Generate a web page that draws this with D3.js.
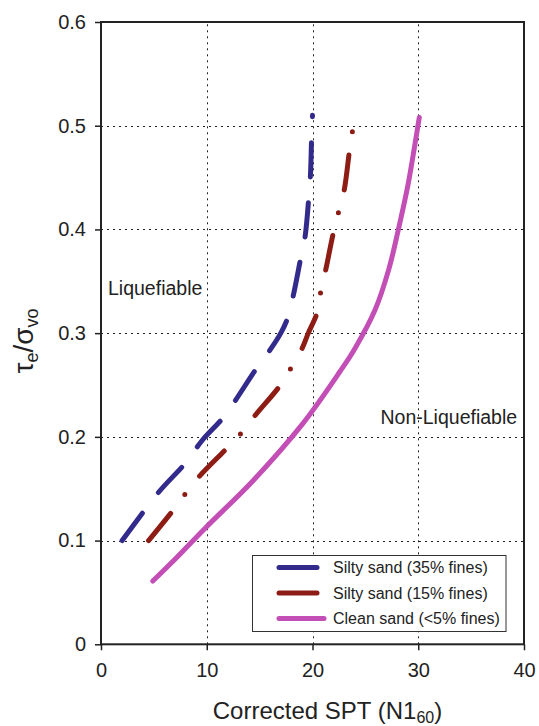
<!DOCTYPE html>
<html>
<head>
<meta charset="utf-8">
<script src="https://cdn.jsdelivr.net/npm/d3@7"></script>
<style>
  html, body { margin: 0; padding: 0; background: #fff; }
  svg { display: block; font-family: "Liberation Sans", Arial, sans-serif; }
</style>
</head>
<body>
<svg id="chart" width="539" height="726"></svg>
<script>
// Corrected SPT blow count (N1_60) vs. cyclic stress ratio for three soil types
const seriesNames = ["Silty sand (35% fines)", "Silty sand (15% fines)", "Clean sand (<5% fines)"];
const seriesColors = ["#332b8c", "#8c1c14", "#c24eb6"];

const silty35N = [2.0, 5.4, 8.0, 9.6, 11.6, 12.7, 14.7, 16.0, 17.0, 17.7, 18.2, 18.9, 19.3, 19.65, 19.8, 19.92, 20.0];
const silty35R = [0.100, 0.146, 0.175, 0.197, 0.219, 0.235, 0.266, 0.284, 0.300, 0.316, 0.337, 0.373, 0.393, 0.431, 0.451, 0.489, 0.510];

const silty15N = [4.5, 6.8, 8.05, 9.3, 11.9, 13.3, 14.6, 16.9, 18.0, 19.0, 19.6, 20.45, 20.8, 21.25, 22.0, 22.5, 23.0, 23.5, 23.8];
const silty15R = [0.100, 0.129, 0.146, 0.162, 0.189, 0.204, 0.221, 0.249, 0.267, 0.285, 0.300, 0.320, 0.341, 0.361, 0.398, 0.418, 0.438, 0.476, 0.496];

const cleanN = [4.9, 6.9, 9.85, 14.4, 19.1, 22.6, 24.0, 25.9, 27.2, 28.1, 29.05, 29.7, 30.1];
const cleanR = [0.061, 0.081, 0.112, 0.158, 0.213, 0.263, 0.285, 0.322, 0.361, 0.399, 0.444, 0.483, 0.508];

const xTicks = [0, 10, 20, 30, 40];
const yTicks = [0, 0.1, 0.2, 0.3, 0.4, 0.5, 0.6];

const svg = d3.select("#chart");

const x = d3.scaleLinear().domain([0, 40]).range([101, 524]);
const y = d3.scaleLinear().domain([0, 0.6]).range([644.3, 22]);

// dotted grid
const grid = svg.append("g").attr("stroke", "#222").attr("stroke-width", 1)
  .attr("stroke-dasharray", "2,4");
grid.selectAll("line.h").data(yTicks.filter(v => v > 0 && v < 0.6)).join("line")
  .attr("x1", x(0)).attr("x2", x(40))
  .attr("y1", d => Math.round(y(d)) + 0.5).attr("y2", d => Math.round(y(d)) + 0.5);
grid.selectAll("line.v").data(xTicks.filter(v => v > 0 && v < 40)).join("line")
  .attr("y1", y(0)).attr("y2", y(0.6))
  .attr("x1", d => Math.round(x(d)) + 0.5).attr("x2", d => Math.round(x(d)) + 0.5);

// axes
const xAxis = svg.append("g").attr("transform", `translate(0,${y(0)})`)
  .call(d3.axisBottom(x).tickValues(xTicks).tickSize(6).tickPadding(13).tickFormat(d3.format("d")));
const yAxis = svg.append("g").attr("transform", `translate(${x(0)},0)`)
  .call(d3.axisLeft(y).tickValues(yTicks).tickSize(6).tickPadding(9)
    .tickFormat(d => d === 0 ? "0" : d.toFixed(1)));
[xAxis, yAxis].forEach(a => {
  a.select(".domain").remove();
  a.selectAll(".tick line").attr("stroke", "#222").attr("stroke-width", 1.5);
  a.selectAll(".tick text").attr("fill", "#222").style("font-size", "20px")
    .style("font-family", "'Liberation Sans', Arial, sans-serif");
});

// curves; dash patterns are stretched slightly so each dashed curve closes on a dot
const line = d3.line().x(d => x(d[0])).y(d => y(d[1])).curve(d3.curveCatmullRom.alpha(0.5));
const series = [
  { pts: d3.zip(silty35N, silty35R), dash: [34, 26], endPhase: 1.5 },
  { pts: d3.zip(silty15N, silty15R), dash: [34, 23, 0, 23], endPhase: 59 },
  { pts: d3.zip(cleanN, cleanR), dash: null }
];
series.forEach((s, i) => {
  const p = svg.append("path").datum(s.pts)
    .attr("d", line)
    .attr("fill", "none")
    .attr("stroke", seriesColors[i])
    .attr("stroke-width", 5)
    .attr("stroke-linecap", "round")
    .attr("stroke-linejoin", "round");
  if (s.dash) {
    const L = p.node().getTotalLength();
    const period = d3.sum(s.dash);
    const n = Math.round((L - s.endPhase) / period);
    const k = L / (n * period + s.endPhase);
    p.attr("stroke-dasharray", s.dash.map(v => (v * k).toFixed(2)).join(","));
  }
});

// frame
svg.append("rect")
  .attr("x", x(0)).attr("y", y(0.6))
  .attr("width", x(40) - x(0)).attr("height", y(0) - y(0.6))
  .attr("fill", "none").attr("stroke", "#222").attr("stroke-width", 2);

// region labels
svg.append("text").attr("x", 108).attr("y", 294.5)
  .attr("fill", "#222").style("font-size", "19.5px").text("Liquefiable");
svg.append("text").attr("x", 380.5).attr("y", 424.3)
  .attr("fill", "#222").style("font-size", "19.5px").text("Non-Liquefiable");

// legend
const lg = svg.append("g");
lg.append("rect").attr("x", 252.5).attr("y", 555.5).attr("width", 253.5).attr("height", 76)
  .attr("fill", "#fff").attr("stroke", "#333").attr("stroke-width", 1);
const rowY = [567.5, 593, 618.5];
const lineEnd = [317, 317, 324];
seriesNames.forEach((name, i) => {
  lg.append("line").attr("x1", 279).attr("x2", lineEnd[i])
    .attr("y1", rowY[i]).attr("y2", rowY[i])
    .attr("stroke", seriesColors[i]).attr("stroke-width", 5).attr("stroke-linecap", "round");
  lg.append("text").attr("x", 333).attr("y", rowY[i]).attr("dy", "0.36em")
    .attr("fill", "#222").style("font-size", "16px").text(name);
});

// axis titles
const xt = svg.append("text").attr("x", 327.5).attr("y", 719).attr("text-anchor", "middle")
  .attr("fill", "#222").style("font-size", "24px");
xt.append("tspan").text("Corrected SPT (N1");
xt.append("tspan").attr("dy", 3.5).style("font-size", "16px").text("60");
xt.append("tspan").attr("dy", -3.5).text(")");

const yt = svg.append("text").attr("transform", "translate(33,341) rotate(-90)")
  .attr("text-anchor", "middle").attr("fill", "#222").style("font-size", "28px");
yt.append("tspan").text("τ");
yt.append("tspan").attr("dy", 5).style("font-size", "18px").text("e");
yt.append("tspan").attr("dy", -5).text("/σ");
yt.append("tspan").attr("dy", 5).style("font-size", "18px").text("vo");
</script>
</body>
</html>
